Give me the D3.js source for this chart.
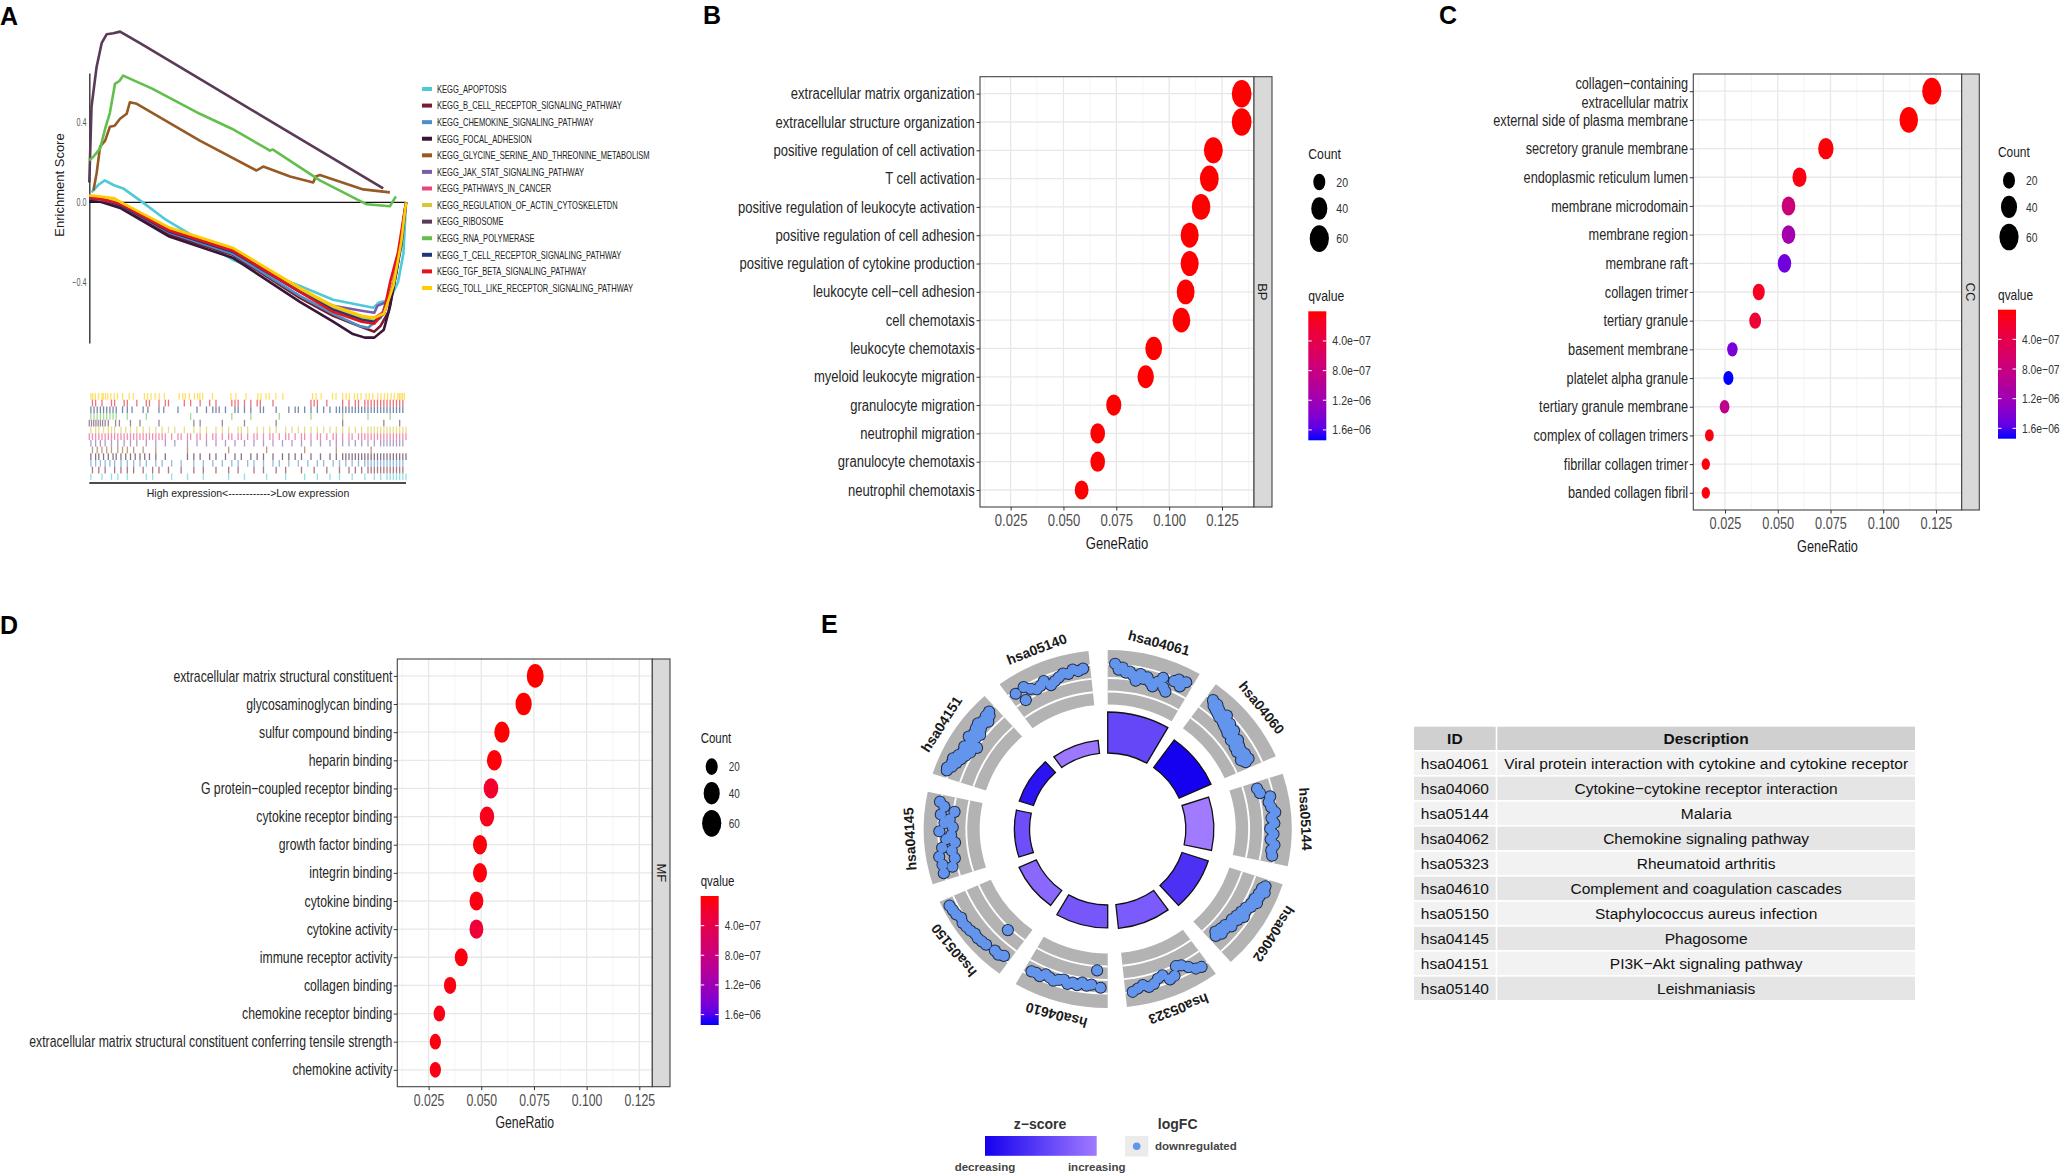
<!DOCTYPE html>
<html><head><meta charset="utf-8">
<script src="https://cdn.jsdelivr.net/npm/d3@7"></script>
<style>
body{margin:0;background:#fff;}
svg{display:block;font-family:"Liberation Sans",Arial,Helvetica,sans-serif;}
</style></head><body>
<svg id="fig" width="2060" height="1174"></svg>
<script>
// ===================== DATA =====================
// ---- Panel A : GSEA running enrichment scores ([rank fraction, ES]) ----
const gseaNames = ["KEGG_APOPTOSIS","KEGG_B_CELL_RECEPTOR_SIGNALING_PATHWAY","KEGG_CHEMOKINE_SIGNALING_PATHWAY","KEGG_FOCAL_ADHESION","KEGG_GLYCINE_SERINE_AND_THREONINE_METABOLISM","KEGG_JAK_STAT_SIGNALING_PATHWAY","KEGG_PATHWAYS_IN_CANCER","KEGG_REGULATION_OF_ACTIN_CYTOSKELETDN","KEGG_RIBOSOME","KEGG_RNA_POLYMERASE","KEGG_T_CELL_RECEPTOR_SIGNALING_PATHWAY","KEGG_TGF_BETA_SIGNALING_PATHWAY","KEGG_TOLL_LIKE_RECEPTOR_SIGNALING_PATHWAY"];
const gseaColors = ["#4ec9d8","#7a1c31","#4d8fc8","#3a1535","#965a24","#7c5ca7","#e8457c","#d5c83b","#5a3a57","#62bf4e","#1d3877","#e3141c","#ffcc00"];
const esApoptosis = [[0.007,0.05],[0.028,0.087],[0.049,0.11],[0.076,0.087],[0.107,0.07],[0.16,0.01],[0.244,-0.09],[0.455,-0.29],[0.665,-0.42],[0.77,-0.49],[0.897,-0.53],[0.913,-0.505],[0.949,-0.49],[0.975,-0.40],[0.992,-0.255],[1,0]];
const esBCell = [[0,0.02],[0.03,0.015],[0.1,-0.02],[0.25,-0.16],[0.455,-0.265],[0.665,-0.48],[0.77,-0.57],[0.85,-0.62],[0.9,-0.65],[0.92,-0.62],[0.945,-0.55],[0.97,-0.35],[1,0]];
const esChemokine = [[0,0.02],[0.03,0.02],[0.1,-0.015],[0.25,-0.15],[0.455,-0.26],[0.665,-0.47],[0.77,-0.56],[0.85,-0.62],[0.88,-0.63],[0.92,-0.58],[0.96,-0.4],[0.985,-0.2],[1,0]];
const esFocal = [[0,0.01],[0.03,0.005],[0.1,-0.03],[0.25,-0.17],[0.455,-0.28],[0.665,-0.5],[0.77,-0.6],[0.83,-0.66],[0.87,-0.68],[0.9,-0.68],[0.93,-0.64],[0.95,-0.52],[0.975,-0.3],[1,0]];
const esGlycine = [[0.013,0.06],[0.023,0.145],[0.034,0.28],[0.05,0.31],[0.065,0.38],[0.08,0.385],[0.097,0.42],[0.118,0.445],[0.128,0.503],[0.15,0.495],[0.349,0.31],[0.528,0.16],[0.549,0.18],[0.634,0.13],[0.707,0.10],[0.715,0.13],[0.728,0.137],[0.865,0.065],[0.949,0.05]];
const esJakStat = [[0,0.02],[0.03,0.02],[0.1,-0.015],[0.25,-0.145],[0.455,-0.25],[0.665,-0.45],[0.77,-0.52],[0.86,-0.545],[0.9,-0.555],[0.91,-0.52],[0.94,-0.5],[0.96,-0.4],[0.985,-0.2],[1,0]];
const esCancer = [[0,0.02],[0.03,0.015],[0.1,-0.01],[0.25,-0.135],[0.455,-0.24],[0.665,-0.44],[0.77,-0.53],[0.86,-0.575],[0.9,-0.58],[0.93,-0.55],[0.96,-0.4],[0.985,-0.2],[1,0]];
const esActin = [[0,0.03],[0.03,0.025],[0.1,0.0],[0.25,-0.13],[0.455,-0.24],[0.665,-0.44],[0.77,-0.53],[0.86,-0.58],[0.9,-0.59],[0.93,-0.56],[0.96,-0.4],[0.985,-0.2],[1,0]];
const esRibosome = [[0,0.1],[0.007,0.48],[0.023,0.68],[0.039,0.8],[0.055,0.845],[0.076,0.85],[0.097,0.858],[0.16,0.8],[0.349,0.62],[0.56,0.42],[0.928,0.07]];
const esRnaPol = [[0,0.21],[0.013,0.23],[0.034,0.27],[0.05,0.37],[0.065,0.45],[0.081,0.595],[0.095,0.61],[0.107,0.637],[0.2,0.57],[0.349,0.445],[0.45,0.37],[0.56,0.27],[0.57,0.26],[0.58,0.265],[0.728,0.11],[0.876,-0.01],[0.949,-0.02],[0.968,0.03]];
const esTCell = [[0,0.02],[0.03,0.02],[0.1,-0.015],[0.25,-0.145],[0.455,-0.25],[0.665,-0.45],[0.77,-0.54],[0.86,-0.59],[0.9,-0.6],[0.93,-0.56],[0.96,-0.42],[0.985,-0.22],[1,0]];
const esTgfBeta = [[0,0.025],[0.03,0.02],[0.1,-0.01],[0.25,-0.14],[0.455,-0.245],[0.665,-0.45],[0.77,-0.55],[0.86,-0.6],[0.9,-0.61],[0.93,-0.55],[0.95,-0.4],[0.975,-0.25],[1,0]];
const esToll = [[0,0.035],[0.03,0.03],[0.08,0.02],[0.1,0.0],[0.25,-0.125],[0.455,-0.23],[0.665,-0.43],[0.77,-0.52],[0.86,-0.57],[0.9,-0.58],[0.93,-0.56],[0.96,-0.42],[0.985,-0.2],[1,0]];
const esCurves = [esApoptosis,esBCell,esChemokine,esFocal,esGlycine,esJakStat,esCancer,esActin,esRibosome,esRnaPol,esTCell,esTgfBeta,esToll];
const esTicks = [-0.4, 0, 0.4];
// hit positions (percent of ranked list) for the barcode rows, top to bottom
const hitsToll = [0.5,1.1,1.9,2.9,4,4.4,5.1,5.8,6.8,7.9,8.9,10.5,12.6,13.9,17.4,18.4,19.5,20.8,22.1,23.7,28.4,29.5,30.3,31.6,33.2,34.2,34.9,35.8,38.9,44.7,46.3,49.5,53.2,54.2,55.8,56.8,58.9,61.1,70.5,71.6,73.2,76.8,77.9,80,81.1,82.1,83.7,84.7,85.8,87.4,88.4,89.5,91.1,92.1,93.2,94.2,95.3,96.3,97.4,97.9,98.4,98.9,99.5];
const hitsTgf = [1,2,4,7,8,11,12,15,18,19,22,24,25,30,32,35,38,40,45,46,47,49,51,53,54,58,70,71,72,75,80,82,84,85,87,88,89,90,91,92,93,94,95,96,97,98,99];
const hitsTCell = [0.5,1.5,2.5,3.5,4.5,5.5,6.5,7.5,8.5,10.5,12,13.5,17,18.5,22,23.5,28,34,37,39,40,41,43,46,47,49,51,54,55,59,63,65,66,68,70,72,74,76,78,79,80,81,82,83,84,85,86,87,88,89,90,91,92,93,94,95,96,97,98,99];
const hitsRnaPol = [0.5,1.5,2.5,3.5,4.5,5.5,6.5,7.5,8.5,12,18,32,45,51,60,70,80,88,95];
const hitsRibosome = [0,0.7,1.4,2.1,2.8,3.5,4.2,5,6,8.3,9.5,13,16,22,33,35,42,49,59,80,93,98];
const hitsActin = [0.5,2,3,4.5,6,7,8,10,11.5,13,15,17,19,21,23,25,27,30,33,35,37,40,42,44,47,48,50,53,55,57,59,62,64,66,68,70,72,74,76,78,80,82,84,86,88,89,90,91,92,93,94,95,96,97,98,99,100];
const hitsCancer = [0,1,2,3,4,5,6,7,8,9,10,11,12,13,14,15,16,17,18,19,20,21,22,23,24,26,28,29,31,32,34,35,37,39,40,42,44,45,47,48,50,52,53,55,57,58,60,62,63,65,67,68,70,72,73,75,77,78,80,82,83,85,86,87,88,89,90,91,92,93,94,95,96,97,98,99,100];
const hitsJakStat = [0.5,2,3.5,5,7,9,11,13,15,18,21,24,27,31,34,37,40,43,46,49,52,55,58,61,64,67,70,73,76,78,80,82,84,86,88,90,92,93,94,95,96,97,98,99];
const hitsGlycine = [1,2.5,4,5.5,7,9,10.5,12,14,17,21,31,44,56,68,78,89];
const hitsFocal = [0.5,2,3,4.5,6,7.5,8.5,10,11.5,13,14.5,16,17.5,19,21,24,31,33,35,38,40,43,46,48,51,53,55,58,61,63,65,67,70,73,76,78,80,81,82,83,84,85,86,87,88,89,90,91,92,93,94,95,96,97,98,99,100];
const hitsChemokine = [0.5,2,3.5,5,6.5,8,10,12,14,16,18,21,23,26,29,33,36,39,42,45,47,50,52,55,58,60,63,66,69,72,74,77,79,81,83,85,87,88,89,90,91,92,93,94,95,96,97,98,99];
const hitsBCell = [1,3,5,8,10,12,14,17,20,22,25,29,33,36,40,44,47,52,55,59,62,67,71,75,79,82,84,86,88,89,90,91,92,93,94,95,96,97,98,99];
const hitsApoptosis = [0.5,4,7,9,12,18,20,26,31,36,44,49,56,62,68,72,76,79,83,87,90,92,94,95,96,97,98,99,100];
const hitRows = [hitsToll,hitsTgf,hitsTCell,hitsRnaPol,hitsRibosome,hitsActin,hitsCancer,hitsJakStat,hitsGlycine,hitsFocal,hitsChemokine,hitsBCell,hitsApoptosis];
const hitRowSet = [12,11,10,9,8,7,6,5,4,3,2,1,0]; // index into gseaColors

// ---- Panels B, C, D : GO dot plots ----
const bpTerms = ["extracellular matrix organization","extracellular structure organization","positive regulation of cell activation","T cell activation","positive regulation of leukocyte activation","positive regulation of cell adhesion","positive regulation of cytokine production","leukocyte cell−cell adhesion","cell chemotaxis","leukocyte chemotaxis","myeloid leukocyte migration","granulocyte migration","neutrophil migration","granulocyte chemotaxis","neutrophil chemotaxis"];
const bpRatio = [0.1343,0.1343,0.1209,0.1190,0.1151,0.1097,0.1097,0.1078,0.1058,0.0927,0.0889,0.0738,0.0662,0.0662,0.0586];
const bpCount = [64,64,58,57,55,52,52,51,50,44,42,35,32,32,28];
const bpQ = [1e-14,1e-14,1e-12,1e-12,1e-11,1e-11,1e-11,1e-10,1e-10,1e-9,1e-9,2e-9,3e-9,3e-9,5e-9];

const ccTerms = ["collagen−containing\nextracellular matrix","external side of plasma membrane","secretory granule membrane","endoplasmic reticulum lumen","membrane microdomain","membrane region","membrane raft","collagen trimer","tertiary granule","basement membrane","platelet alpha granule","tertiary granule membrane","complex of collagen trimers","fibrillar collagen trimer","banded collagen fibril"];
const ccRatio = [0.1230,0.1121,0.0728,0.0603,0.0551,0.0551,0.0532,0.0410,0.0393,0.0285,0.0266,0.0248,0.0176,0.0159,0.0159];
const ccCount = [60,55,36,29,27,27,26,20,19,14,13,12,9,8,8];
const ccQ = [1e-10,1e-9,2e-8,5e-8,7.5e-7,1.15e-6,1.5e-6,1.2e-7,2.5e-7,1.45e-6,1.74e-6,9e-7,5e-8,4e-8,4e-8];

const mfTerms = ["extracellular matrix structural constituent","glycosaminoglycan binding","sulfur compound binding","heparin binding","G protein−coupled receptor binding","cytokine receptor binding","growth factor binding","integrin binding","cytokine binding","cytokine activity","immune receptor activity","collagen binding","chemokine receptor binding","extracellular matrix structural constituent conferring tensile strength","chemokine activity"];
const mfRatio = [0.0756,0.0701,0.0598,0.0562,0.0546,0.0527,0.0494,0.0494,0.0477,0.0477,0.0405,0.0352,0.0301,0.0282,0.0282];
const mfCount = [45,41,35,33,32,31,29,29,28,28,24,21,18,17,17];
const mfQ = [1e-10,1e-9,5e-9,2e-8,2e-7,1e-7,3e-8,3e-8,5e-8,2.5e-7,3e-8,5e-8,8e-8,5e-8,6e-8];

const ratioTicks = [0.025,0.05,0.075,0.1,0.125];
const ratioMinor = [0.0125,0.0375,0.0625,0.0875,0.1125,0.1375];
const countLegend = [20,40,60];
const qMax = 1.74e-6;
const qLegendValues = [4e-7,8e-7,1.2e-6,1.6e-6];
const qLegendLabels = ["4.0e−07","8.0e−07","1.2e−06","1.6e−06"];

// ---- Panel E : GOCircle of KEGG pathways ----
const keggIds = ["hsa04061","hsa04060","hsa05144","hsa04062","hsa05323","hsa04610","hsa05150","hsa04145","hsa04151","hsa05140"];
const keggDesc = ["Viral protein interaction with cytokine and cytokine receptor","Cytokine−cytokine receptor interaction","Malaria","Chemokine signaling pathway","Rheumatoid arthritis","Complement and coagulation cascades","Staphylococcus aureus infection","Phagosome","PI3K−Akt signaling pathway","Leishmaniasis"];
const keggSig = [12.5,10.4,8.3,8.2,7.3,7.0,5.6,4.5,4.4,4.0];      // -log10(adj p)
const keggZ = [-5.5,-7.7,-3.9,-6.2,-4.9,-5.0,-4.5,-5.3,-7.1,-4.0];  // z-score
const logFC04061 = [-1.8,-2.5,-2.2,-2.8,-2.6,-3.0,-3.6,-2.7,-3.2,-2.9,-3.4,-3.8,-3.1,-2.4,-3.5,-3.9,-2.3,-1.9,-2.6,-1.8];
const logFC04060 = [-1.9,-2.1,-2.4,-2.0,-2.6,-2.3,-2.8,-2.5,-3.0,-2.7,-2.2,-3.1,-2.9,-3.3,-2.6,-3.4,-3.0,-3.6,-2.8,-3.2,-3.5,-3.8,-3.3,-3.1,-3.7,-3.9,-3.4,-3.6,-4.0,-3.5,-3.8,-3.3,-3.6,-4.1,-3.2,-3.7];
const logFC05144 = [-3.6,-3.4,-2.3,-2.6,-2.4,-2.0,-2.5,-2.2,-2.7,-2.3,-2.6,-2.1,-2.4,-2.2];
const logFC04062 = [-2.0,-2.3,-1.8,-2.4,-2.2,-2.6,-2.1,-2.7,-2.5,-3.0,-2.8,-3.2,-2.6,-3.4,-3.0,-3.6,-3.3,-3.1,-3.8,-3.5,-3.9,-3.4,-4.1,-3.7];
const logFC05323 = [-1.8,-2.0,-2.6,-3.2,-3.4,-2.4,-2.2,-3.0,-2.8,-2.3,-2.1,-2.5,-2.2,-1.9];
const logFC04610 = [-2.6,-4.7,-2.9,-2.7,-3.0,-2.6,-2.8,-2.5,-2.9,-2.7,-2.4,-2.6,-2.8,-2.3,-2.5,-2.4];
const logFC05150 = [-2.2,-1.9,-2.0,-4.9,-1.8,-1.7,-1.6,-1.7,-1.5,-1.4,-1.3,-1.5,-1.2,-1.1,-1.0];
const logFC04145 = [-1.8,-3.0,-1.9,-3.5,-1.7,-3.3,-2.2,-3.8,-2.8,-3.4,-2.0,-3.6,-2.6,-3.2,-2.1,-3.7,-2.4,-1.8];
const logFC04151 = [-1.6,-1.5,-2.0,-1.8,-2.3,-1.7,-2.6,-2.1,-2.9,-2.4,-3.2,-2.2,-2.7,-3.6,-2.5,-2.0,-2.8,-2.3,-3.0,-2.1,-2.6,-1.9,-2.4,-2.2,-2.7,-2.0,-2.3,-1.9];
const logFC05140 = [-2.2,-3.5,-2.0,-2.6,-3.0,-2.8,-2.4,-3.2,-2.9,-2.6,-2.3,-2.5,-2.1,-2.4,-2.2];
const keggLogFC = [logFC04061,logFC04060,logFC05144,logFC04062,logFC05323,logFC04610,logFC05150,logFC04145,logFC04151,logFC05140];

// ===================== DRAWING =====================
const svg = d3.select("#fig");
svg.append("rect").attr("width",2060).attr("height",1174).attr("fill","#fff");
const DOTSQ = 0.72;

function stext(g, x, y, s, size, fill, k, anchor, weight) {
  return g.append("text").attr("transform", `translate(${x},${y}) scale(${k},1)`)
    .attr("font-size", size).attr("fill", fill).attr("text-anchor", anchor || "start")
    .attr("font-weight", weight || "normal").text(s);
}

// panel letters
[["A",0,25],["B",703,24],["C",1439,24],["D",0,634],["E",821,633]].forEach(([t,x,y]) =>
  svg.append("text").attr("x",x).attr("y",y).attr("font-size",25).attr("font-weight","bold").attr("fill","#000").text(t));

// ---------- Panel A ----------
{
  const g = svg.append("g");
  const xA = d3.scaleLinear().domain([0,1]).range([89.3,406]);
  const yA = d3.scaleLinear().domain([-0.707,0.65]).range([343,73]);
  const ax = g.append("g").attr("transform","translate(89.3,0)")
    .call(d3.axisLeft(yA).tickValues(esTicks).tickFormat(d3.format(".1f")).tickSize(0).tickPadding(4).tickSizeOuter(0));
  ax.attr("font-family",null);
  ax.select(".domain").attr("stroke","#333").attr("stroke-width",1.4);
  ax.selectAll("text").attr("font-size",10).attr("fill","#555").attr("transform","scale(0.72,1)");
  g.append("line").attr("x1",xA(0)).attr("x2",xA(1)).attr("y1",yA(0)).attr("y2",yA(0)).attr("stroke","#111").attr("stroke-width",1.3);
  const line = d3.line().x(d=>xA(d[0])).y(d=>yA(d[1]));
  esCurves.forEach((c,i)=> g.append("path").attr("d",line(c)).attr("fill","none")
    .attr("stroke",gseaColors[i]).attr("stroke-width",2.6).attr("stroke-linejoin","round"));
  g.append("text").attr("transform","translate(64,185) rotate(-90)").attr("text-anchor","middle")
    .attr("font-size",13).attr("fill","#222").text("Enrichment Score");
  gseaNames.forEach((n,i)=>{
    const yy = 89 + 16.58*i;
    g.append("rect").attr("x",422).attr("y",yy-2).attr("width",10).attr("height",4).attr("fill",gseaColors[i]);
    stext(g,437,yy+3.8,n,10.5,"#222",0.72);
  });
  const rowH = 6.7, top = 393;
  hitRows.forEach((hits,r)=>{
    g.selectAll(null).data(hits).join("line")
      .attr("x1",d=>xA(d/100)).attr("x2",d=>xA(d/100))
      .attr("y1",top+r*rowH).attr("y2",top+(r+1)*rowH)
      .attr("stroke",gseaColors[hitRowSet[r]]).attr("stroke-width",1.3).attr("stroke-opacity",0.6);
  });
  g.append("line").attr("x1",xA(0)).attr("x2",xA(1)).attr("y1",483).attr("y2",483).attr("stroke","#111").attr("stroke-width",1.5);
  g.append("text").attr("x",248).attr("y",497).attr("text-anchor","middle").attr("font-size",10.5).attr("fill","#222")
    .text("High expression<------------>Low expression");
}

// ---------- Panels B, C, D ----------
const sizeScale = d3.scalePow().exponent(0.5).domain([8,60]).range([11.7,26.7]);
const qColor = d3.scaleLinear().domain([0,qMax]).range(["#ff0000","#0000ff"]).interpolate(d3.interpolateLab);
const defs = svg.append("defs");
const grad = defs.append("linearGradient").attr("id","qgrad").attr("x1",0).attr("x2",0).attr("y1",0).attr("y2",1);
d3.range(0,1.0001,0.1).forEach(t=> grad.append("stop").attr("offset",t).attr("stop-color",qColor(t*qMax)));

function dotPanel(p) {
  const k = p.sq;
  const g = svg.append("g");
  const x = d3.scaleLinear().domain([0.025,0.125]).range([p.x025,p.x125]);
  const y = d3.scalePoint().domain(p.terms).range([p.top,p.bottom]).padding(0.6);
  g.append("rect").attr("x",p.left).attr("y",p.top).attr("width",p.right-p.left).attr("height",p.bottom-p.top).attr("fill","#fff");
  g.selectAll(null).data(ratioMinor.filter(v=>x(v)>p.left && x(v)<p.right)).join("line")
    .attr("x1",d=>x(d)).attr("x2",d=>x(d)).attr("y1",p.top).attr("y2",p.bottom).attr("stroke","#f2f2f2").attr("stroke-width",0.8);
  g.selectAll(null).data(ratioTicks).join("line")
    .attr("x1",d=>x(d)).attr("x2",d=>x(d)).attr("y1",p.top).attr("y2",p.bottom).attr("stroke","#e8e8e8").attr("stroke-width",1.3);
  g.selectAll(null).data(p.terms).join("line")
    .attr("x1",p.left).attr("x2",p.right).attr("y1",d=>y(d)).attr("y2",d=>y(d)).attr("stroke","#e8e8e8").attr("stroke-width",1.3);
  const pts = p.terms.map((t,i)=>({t, r:p.ratio[i], c:p.count[i], q:p.q[i]}));
  g.selectAll(null).data(pts).join("ellipse")
    .attr("cx",d=>x(d.r)).attr("cy",d=>y(d.t))
    .attr("rx",d=>sizeScale(d.c)/2*DOTSQ).attr("ry",d=>sizeScale(d.c)/2)
    .attr("fill",d=>qColor(d.q));
  g.append("rect").attr("x",p.left).attr("y",p.top).attr("width",p.right-p.left).attr("height",p.bottom-p.top)
    .attr("fill","none").attr("stroke","#444").attr("stroke-width",1.1);
  g.append("rect").attr("x",p.right).attr("y",p.top).attr("width",p.stripW).attr("height",p.bottom-p.top)
    .attr("fill","#d9d9d9").attr("stroke","#444").attr("stroke-width",1.1);
  g.append("text").attr("transform",`translate(${p.right+p.stripW/2},${(p.top+p.bottom)/2}) rotate(90)`)
    .attr("text-anchor","middle").attr("dy","0.35em").attr("font-size",13).attr("fill","#1a1a1a").text(p.strip);
  const ax = g.append("g").attr("transform",`translate(0,${p.bottom})`)
    .call(d3.axisBottom(x).tickValues(ratioTicks).tickFormat(d3.format(".3f")).tickSize(3.5).tickPadding(4.5).tickSizeOuter(0));
  ax.attr("font-family",null);
  ax.select(".domain").remove();
  ax.selectAll("line").attr("stroke","#333");
  ax.selectAll("text").attr("font-size",16).attr("fill","#4d4d4d").attr("transform",`scale(${k},1)`);
  const ay = g.append("g").attr("transform",`translate(${p.left},0)`)
    .call(d3.axisLeft(y).tickSize(3.5).tickPadding(3).tickSizeOuter(0));
  ay.attr("font-family",null);
  ay.select(".domain").remove();
  ay.selectAll("line").attr("stroke","#333");
  ay.selectAll("text").attr("font-size",16).attr("fill","#262626").attr("transform",`scale(${k},1)`)
    .each(function(d){
      if (d.indexOf("\n")>=0) {
        const t = d3.select(this), xx = t.attr("x");
        const parts = d.split("\n");
        t.text(null).attr("dy",null);
        t.append("tspan").attr("x",xx).attr("y",-3).text(parts[0]);
        t.append("tspan").attr("x",xx).attr("y",16).text(parts[1]);
      }
    });
  stext(g,(p.left+p.right)/2,p.bottom+41.5,"GeneRatio",16,"#1a1a1a",k,"middle");
  const lx = p.legX, ly = p.legY;
  stext(g,lx,ly+5.3,"Count",15,"#1a1a1a",k);
  const dy = [28.7,55.2,85.3];
  countLegend.forEach((c,i)=>{
    g.append("ellipse").attr("cx",lx+11).attr("cy",ly+dy[i]).attr("rx",sizeScale(c)/2*DOTSQ).attr("ry",sizeScale(c)/2).attr("fill","#000");
    stext(g,lx+28,ly+dy[i]+4.6,String(c),13,"#333",k);
  });
  stext(g,lx,ly+142.5+5.3,"qvalue",15,"#1a1a1a",k);
  const bt = ly+158, bb = ly+287;
  const qs = d3.scaleLinear().domain([0,qMax]).range([bt,bb]);
  g.append("rect").attr("x",lx).attr("y",bt).attr("width",18).attr("height",bb-bt).attr("fill","url(#qgrad)");
  qLegendValues.forEach((v,i)=>{
    g.append("line").attr("x1",lx).attr("x2",lx+3.5).attr("y1",qs(v)).attr("y2",qs(v)).attr("stroke","#fff").attr("stroke-width",1);
    g.append("line").attr("x1",lx+14.5).attr("x2",lx+18).attr("y1",qs(v)).attr("y2",qs(v)).attr("stroke","#fff").attr("stroke-width",1);
    stext(g,lx+24,qs(v)+4.5,qLegendLabels[i],13,"#333",k);
  });
}

dotPanel({terms:bpTerms, ratio:bpRatio, count:bpCount, q:bpQ, strip:"BP", sq:0.815,
  left:980, right:1254, top:76.7, bottom:507, stripW:18, x025:1010.6, x125:1222, legX:1308.3, legY:153.3});
dotPanel({terms:ccTerms, ratio:ccRatio, count:ccCount, q:ccQ, strip:"CC", sq:0.795,
  left:1693.3, right:1961.7, top:74, bottom:510, stripW:17.6, x025:1725, x125:1936, legX:1998, legY:151.7});
dotPanel({terms:mfTerms, ratio:mfRatio, count:mfCount, q:mfQ, strip:"MF", sq:0.765,
  left:397.3, right:652.3, top:659, bottom:1086.7, stripW:17.7, x025:428.6, x125:639.3, legX:700.7, legY:738});

// ---------- Panel E ----------
{
  const cx = 1107.7, cy = 829, sx = 1.028, deg = Math.PI/180;
  const gE = svg.append("g").attr("transform",`translate(${cx},${cy})`);
  const gS = gE.append("g").attr("transform",`scale(${sx},1)`);
  const blockIn = 124.5, blockOut = 179, barIn = 76;
  const gridR = [137.5,151,164.7];
  const zColor = d3.scaleLinear().domain([d3.min(keggZ), d3.max(keggZ)]).range(["#1500ef","#a07bff"]);
  const hScale = d3.scaleLinear().domain([0, d3.max(keggSig)]).range([0,41]);
  const rScale = d3.scaleLinear().domain([-6.5,-0.5]).range([127.2,176]);
  const arc = d3.arc();
  keggIds.forEach((id,i)=>{
    const a0 = 36*i*deg, a1 = (36*i+30)*deg;
    gS.append("path").attr("d",arc({innerRadius:blockIn,outerRadius:blockOut,startAngle:a0,endAngle:a1})).attr("fill","#b3b3b3");
    gridR.forEach(r=> gS.append("path").attr("d",arc({innerRadius:r-0.9,outerRadius:r+0.9,startAngle:a0,endAngle:a1})).attr("fill","#fff"));
    gS.append("path").attr("d",arc({innerRadius:barIn,outerRadius:barIn+hScale(keggSig[i]),startAngle:a0,endAngle:a1}))
      .attr("fill",zColor(keggZ[i])).attr("stroke","#111").attr("stroke-width",1.3).attr("vector-effect","non-scaling-stroke");
  });
  const genePts = [];
  keggLogFC.forEach((arr,i)=>{
    arr.forEach((v,j)=>{
      const a = (36*i + 2.5 + (arr.length>1 ? j/(arr.length-1) : 0.5)*25)*deg;
      const r = rScale(v);
      genePts.push({x: sx*r*Math.sin(a), y: -r*Math.cos(a)});
    });
  });
  gE.selectAll(null).data(genePts).join("circle").attr("cx",d=>d.x).attr("cy",d=>d.y).attr("r",6.1).attr("fill","#1f2a44");
  gE.selectAll(null).data(genePts).join("circle").attr("cx",d=>d.x).attr("cy",d=>d.y).attr("r",5.1).attr("fill","#6495ed");
  keggIds.forEach((id,i)=>{
    const aDeg = 36*i+15, a = aDeg*deg, r = 192.7;
    gE.append("text").attr("transform",`translate(${sx*r*Math.sin(a)},${-r*Math.cos(a)}) rotate(${aDeg})`)
      .attr("text-anchor","middle").attr("dy","0.35em").attr("font-size",14).attr("font-weight","bold").attr("fill","#1a1a1a").text(id);
  });
  // legend
  const lg = defs.append("linearGradient").attr("id","zgrad");
  lg.append("stop").attr("offset",0).attr("stop-color",zColor.range()[0]);
  lg.append("stop").attr("offset",1).attr("stop-color",zColor.range()[1]);
  svg.append("text").attr("x",1040).attr("y",1128.5).attr("text-anchor","middle").attr("font-size",14).attr("font-weight","bold").attr("fill","#333").text("z−score");
  svg.append("rect").attr("x",985).attr("y",1136).attr("width",111.7).attr("height",19.8).attr("fill","url(#zgrad)");
  svg.append("text").attr("x",985).attr("y",1170.5).attr("text-anchor","middle").attr("font-size",11.5).attr("font-weight","bold").attr("fill","#444").text("decreasing");
  svg.append("text").attr("x",1096.7).attr("y",1170.5).attr("text-anchor","middle").attr("font-size",11.5).attr("font-weight","bold").attr("fill","#444").text("increasing");
  svg.append("text").attr("x",1177.7).attr("y",1128.5).attr("text-anchor","middle").attr("font-size",14).attr("font-weight","bold").attr("fill","#333").text("logFC");
  svg.append("rect").attr("x",1125).attr("y",1136).attr("width",23.3).attr("height",20.5).attr("fill","#ebebeb");
  svg.append("circle").attr("cx",1136.7).attr("cy",1146.3).attr("r",3.8).attr("fill","#6495ed");
  svg.append("text").attr("x",1155).attr("y",1150.3).attr("font-size",11.5).attr("font-weight","bold").attr("fill","#444").text("downregulated");
}

// ---------- Table ----------
{
  const g = svg.append("g");
  const idX = 1414, idW = 81.7, dX = 1497.3, dW = 417.7, hY = 726.7, hH = 23.3, rY = 751.7, rStep = 25, rH = 23.3;
  g.append("rect").attr("x",idX).attr("y",hY).attr("width",idW).attr("height",hH).attr("fill","#d0d0d0");
  g.append("rect").attr("x",dX).attr("y",hY).attr("width",dW).attr("height",hH).attr("fill","#d0d0d0");
  g.append("text").attr("x",idX+idW/2).attr("y",hY+hH/2).attr("dy","0.35em").attr("text-anchor","middle").attr("font-size",15.5).attr("font-weight","bold").attr("fill","#111").text("ID");
  g.append("text").attr("x",dX+dW/2).attr("y",hY+hH/2).attr("dy","0.35em").attr("text-anchor","middle").attr("font-size",15.5).attr("font-weight","bold").attr("fill","#111").text("Description");
  const rows = g.selectAll("g.row").data(keggIds.map((id,i)=>({id, desc:keggDesc[i], i}))).join("g")
    .attr("transform",d=>`translate(0,${rY+d.i*rStep})`);
  rows.append("rect").attr("x",idX).attr("width",idW).attr("height",rH).attr("fill",d=>d.i%2===0?"#f2f2f2":"#e5e5e5");
  rows.append("rect").attr("x",dX).attr("width",dW).attr("height",rH).attr("fill",d=>d.i%2===0?"#f2f2f2":"#e5e5e5");
  rows.append("text").attr("x",idX+idW/2).attr("y",rH/2).attr("dy","0.35em").attr("text-anchor","middle").attr("font-size",15.5).attr("fill","#111").text(d=>d.id);
  rows.append("text").attr("x",dX+dW/2).attr("y",rH/2).attr("dy","0.35em").attr("text-anchor","middle").attr("font-size",15.5).attr("fill","#111").text(d=>d.desc);
}
</script>
</body></html>
